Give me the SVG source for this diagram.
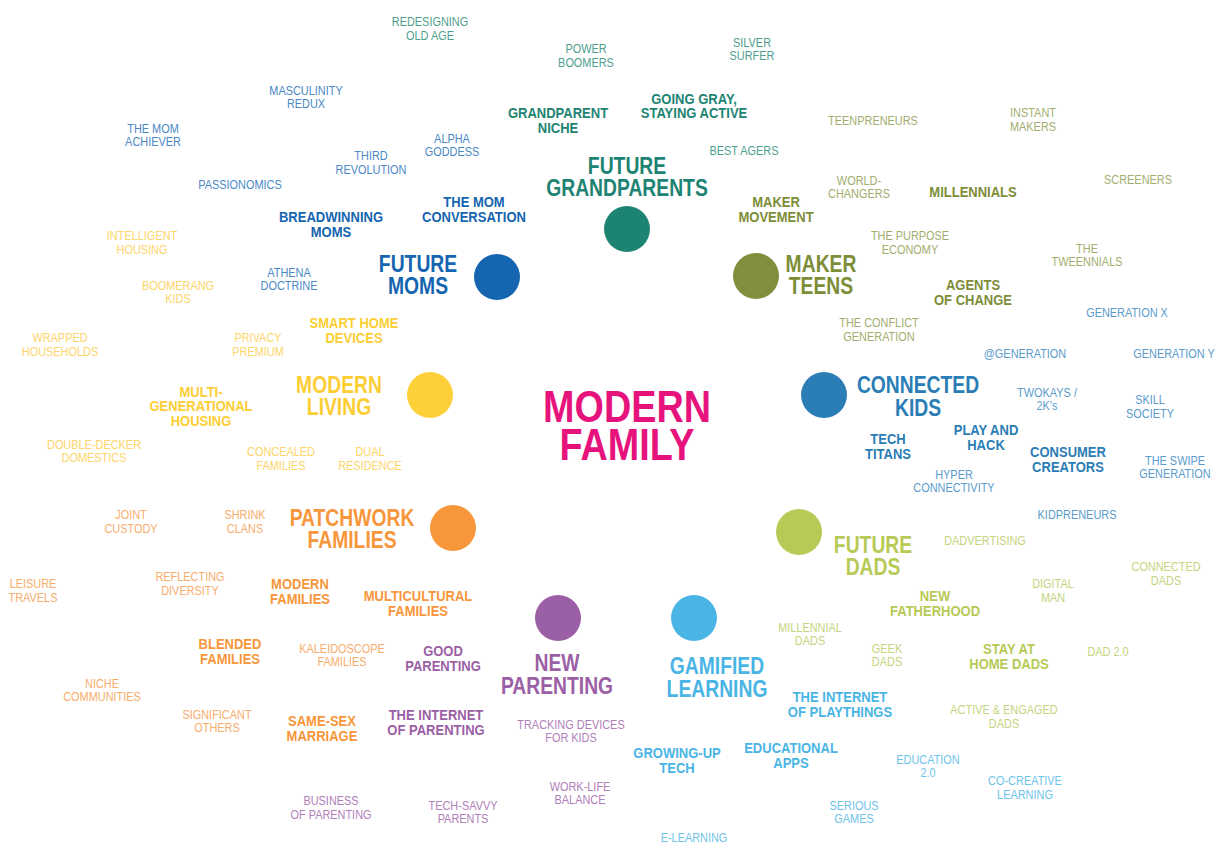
<svg xmlns="http://www.w3.org/2000/svg" width="1223" height="855" viewBox="0 0 1223 855">
<style>
text{font-family:"Liberation Sans",Arial,sans-serif;text-anchor:middle}
.s{font-size:13px;font-weight:400}
.b{font-size:15.5px;font-weight:700}
.L{font-size:23px;font-weight:700}
.H{font-size:45px;font-weight:700;fill:#e6137d}
.gp{fill:#1d8373}.gps{fill:#4e9e8e}
.mo{fill:#1565b0}.mos{fill:#4a88c6}
.mt{fill:#7d8d38}.mts{fill:#a2ad6e}
.ml{fill:#fcce34}.mls{fill:#fdd56a}
.ck{fill:#2a7db5}.cks{fill:#5a9bcc}
.pf{fill:#f7963a}.pfs{fill:#f8ad6c}
.fd{fill:#b7ca55}.fds{fill:#c5d47e}
.np{fill:#9b5fa5}.nps{fill:#b07eb9}
.gl{fill:#4ab5e5}.gls{fill:#6ec3ea}
</style>
<rect width="1223" height="855" fill="#ffffff"/>

<g id="modern-family">
<text class="H" transform="translate(627 422) scale(.84 1)"><tspan x="0">MODERN</tspan><tspan x="0" dy="38">FAMILY</tspan></text>
</g>

<g id="future-grandparents">
<circle cx="627" cy="229" r="23" fill="#1d8373"/>
<text class="L gp" transform="translate(627 174.2) scale(.84 1)"><tspan x="0">FUTURE</tspan><tspan x="0" dy="22">GRANDPARENTS</tspan></text>
<text class="s gps" transform="translate(430 25.5) scale(.84 1)"><tspan x="0">REDESIGNING</tspan><tspan x="0" dy="14.5">OLD AGE</tspan></text>
<text class="s gps" transform="translate(586 52.5) scale(.84 1)"><tspan x="0">POWER</tspan><tspan x="0" dy="15">BOOMERS</tspan></text>
<text class="s gps" transform="translate(752 46.5) scale(.84 1)"><tspan x="0">SILVER</tspan><tspan x="0" dy="14">SURFER</tspan></text>
<text class="s gps" transform="translate(744 154.5) scale(.84 1)">BEST AGERS</text>
<text class="b gp" transform="translate(558 117.5) scale(.84 1)"><tspan x="0">GRANDPARENT</tspan><tspan x="0" dy="16">NICHE</tspan></text>
<text class="b gp" transform="translate(694 103.5) scale(.84 1)"><tspan x="0">GOING GRAY,</tspan><tspan x="0" dy="15">STAYING ACTIVE</tspan></text>
</g>

<g id="future-moms">
<circle cx="497" cy="277" r="23" fill="#1565b0"/>
<text class="L mo" transform="translate(418 272.2) scale(.84 1)"><tspan x="0">FUTURE</tspan><tspan x="0" dy="22">MOMS</tspan></text>
<text class="s mos" transform="translate(306 94.5) scale(.84 1)"><tspan x="0">MASCULINITY</tspan><tspan x="0" dy="14">REDUX</tspan></text>
<text class="s mos" transform="translate(153 132.5) scale(.84 1)"><tspan x="0">THE MOM</tspan><tspan x="0" dy="14">ACHIEVER</tspan></text>
<text class="s mos" transform="translate(371 159.5) scale(.84 1)"><tspan x="0">THIRD</tspan><tspan x="0" dy="15">REVOLUTION</tspan></text>
<text class="s mos" transform="translate(452 142.5) scale(.84 1)"><tspan x="0">ALPHA</tspan><tspan x="0" dy="14">GODDESS</tspan></text>
<text class="s mos" transform="translate(240 188.5) scale(.84 1)">PASSIONOMICS</text>
<text class="s mos" transform="translate(289 276.5) scale(.84 1)"><tspan x="0">ATHENA</tspan><tspan x="0" dy="14">DOCTRINE</tspan></text>
<text class="b mo" transform="translate(331 221.5) scale(.84 1)"><tspan x="0">BREADWINNING</tspan><tspan x="0" dy="16">MOMS</tspan></text>
<text class="b mo" transform="translate(474 206.5) scale(.84 1)"><tspan x="0">THE MOM</tspan><tspan x="0" dy="16">CONVERSATION</tspan></text>
</g>

<g id="maker-teens">
<circle cx="756" cy="276" r="23" fill="#7f8f3b"/>
<text class="L mt" transform="translate(821 272.2) scale(.84 1)"><tspan x="0">MAKER</tspan><tspan x="0" dy="22">TEENS</tspan></text>
<text class="s mts" transform="translate(873 124.5) scale(.84 1)">TEENPRENEURS</text>
<text class="s mts" transform="translate(1033 116.5) scale(.84 1)"><tspan x="0">INSTANT</tspan><tspan x="0" dy="15">MAKERS</tspan></text>
<text class="s mts" transform="translate(859 184.5) scale(.84 1)"><tspan x="0">WORLD-</tspan><tspan x="0" dy="13.5">CHANGERS</tspan></text>
<text class="s mts" transform="translate(1138 183.5) scale(.84 1)">SCREENERS</text>
<text class="s mts" transform="translate(910 239.5) scale(.84 1)"><tspan x="0">THE PURPOSE</tspan><tspan x="0" dy="15">ECONOMY</tspan></text>
<text class="s mts" transform="translate(1087 252.5) scale(.84 1)"><tspan x="0">THE</tspan><tspan x="0" dy="14">TWEENNIALS</tspan></text>
<text class="s mts" transform="translate(879 326.5) scale(.84 1)"><tspan x="0">THE CONFLICT</tspan><tspan x="0" dy="15">GENERATION</tspan></text>
<text class="b mt" transform="translate(973 196.5) scale(.84 1)">MILLENNIALS</text>
<text class="b mt" transform="translate(776 206.5) scale(.84 1)"><tspan x="0">MAKER</tspan><tspan x="0" dy="15.5">MOVEMENT</tspan></text>
<text class="b mt" transform="translate(973 289.5) scale(.84 1)"><tspan x="0">AGENTS</tspan><tspan x="0" dy="16">OF CHANGE</tspan></text>
</g>

<g id="connected-kids">
<circle cx="824" cy="395" r="23" fill="#2a7db5"/>
<text class="L ck" transform="translate(918 393.2) scale(.84 1)"><tspan x="0">CONNECTED</tspan><tspan x="0" dy="23">KIDS</tspan></text>
<text class="s cks" transform="translate(1127 316.5) scale(.84 1)">GENERATION X</text>
<text class="s cks" transform="translate(1025 357.5) scale(.84 1)">@GENERATION</text>
<text class="s cks" transform="translate(1174 357.5) scale(.84 1)">GENERATION Y</text>
<text class="s cks" transform="translate(1047 396.5) scale(.84 1)"><tspan x="0">TWOKAYS /</tspan><tspan x="0" dy="14">2K’s</tspan></text>
<text class="s cks" transform="translate(1150 403.5) scale(.84 1)"><tspan x="0">SKILL</tspan><tspan x="0" dy="15">SOCIETY</tspan></text>
<text class="s cks" transform="translate(954 478.5) scale(.84 1)"><tspan x="0">HYPER</tspan><tspan x="0" dy="14">CONNECTIVITY</tspan></text>
<text class="s cks" transform="translate(1175 464.5) scale(.84 1)"><tspan x="0">THE SWIPE</tspan><tspan x="0" dy="14">GENERATION</tspan></text>
<text class="s cks" transform="translate(1077 518.5) scale(.84 1)">KIDPRENEURS</text>
<text class="b ck" transform="translate(888 443.5) scale(.84 1)"><tspan x="0">TECH</tspan><tspan x="0" dy="16">TITANS</tspan></text>
<text class="b ck" transform="translate(986 434.5) scale(.84 1)"><tspan x="0">PLAY AND</tspan><tspan x="0" dy="15.5">HACK</tspan></text>
<text class="b ck" transform="translate(1068 456.5) scale(.84 1)"><tspan x="0">CONSUMER</tspan><tspan x="0" dy="15.5">CREATORS</tspan></text>
</g>

<g id="future-dads">
<circle cx="799" cy="532" r="23" fill="#b7ca55"/>
<text class="L fd" transform="translate(873 553.2) scale(.84 1)"><tspan x="0">FUTURE</tspan><tspan x="0" dy="22">DADS</tspan></text>
<text class="s fds" transform="translate(985 544.5) scale(.84 1)">DADVERTISING</text>
<text class="s fds" transform="translate(1166 570.5) scale(.84 1)"><tspan x="0">CONNECTED</tspan><tspan x="0" dy="15">DADS</tspan></text>
<text class="s fds" transform="translate(1053 587.5) scale(.84 1)"><tspan x="0">DIGITAL</tspan><tspan x="0" dy="15">MAN</tspan></text>
<text class="s fds" transform="translate(810 631.5) scale(.84 1)"><tspan x="0">MILLENNIAL</tspan><tspan x="0" dy="14">DADS</tspan></text>
<text class="s fds" transform="translate(887 652.5) scale(.84 1)"><tspan x="0">GEEK</tspan><tspan x="0" dy="14">DADS</tspan></text>
<text class="s fds" transform="translate(1108 655.5) scale(.84 1)">DAD 2.0</text>
<text class="s fds" transform="translate(1004 713.5) scale(.84 1)"><tspan x="0">ACTIVE &amp; ENGAGED</tspan><tspan x="0" dy="15">DADS</tspan></text>
<text class="b fd" transform="translate(935 600.5) scale(.84 1)"><tspan x="0">NEW</tspan><tspan x="0" dy="16">FATHERHOOD</tspan></text>
<text class="b fd" transform="translate(1009 653.5) scale(.84 1)"><tspan x="0">STAY AT</tspan><tspan x="0" dy="15.5">HOME DADS</tspan></text>
</g>

<g id="gamified-learning">
<circle cx="694" cy="618" r="23" fill="#4ab5e5"/>
<text class="L gl" transform="translate(717 674.2) scale(.84 1)"><tspan x="0">GAMIFIED</tspan><tspan x="0" dy="23">LEARNING</tspan></text>
<text class="b gl" transform="translate(840 701.5) scale(.84 1)"><tspan x="0">THE INTERNET</tspan><tspan x="0" dy="16">OF PLAYTHINGS</tspan></text>
<text class="b gl" transform="translate(677 757.5) scale(.84 1)"><tspan x="0">GROWING-UP</tspan><tspan x="0" dy="16">TECH</tspan></text>
<text class="b gl" transform="translate(791 752.5) scale(.84 1)"><tspan x="0">EDUCATIONAL</tspan><tspan x="0" dy="16">APPS</tspan></text>
<text class="s gls" transform="translate(928 763.5) scale(.84 1)"><tspan x="0">EDUCATION</tspan><tspan x="0" dy="14">2.0</tspan></text>
<text class="s gls" transform="translate(1025 784.5) scale(.84 1)"><tspan x="0">CO-CREATIVE</tspan><tspan x="0" dy="15">LEARNING</tspan></text>
<text class="s gls" transform="translate(854 809.5) scale(.84 1)"><tspan x="0">SERIOUS</tspan><tspan x="0" dy="14">GAMES</tspan></text>
<text class="s gls" transform="translate(694 841.5) scale(.84 1)">E-LEARNING</text>
</g>

<g id="new-parenting">
<circle cx="558" cy="618" r="23" fill="#9b5fa5"/>
<text class="L np" transform="translate(557 671.2) scale(.84 1)"><tspan x="0">NEW</tspan><tspan x="0" dy="23">PARENTING</tspan></text>
<text class="b np" transform="translate(443 655.5) scale(.84 1)"><tspan x="0">GOOD</tspan><tspan x="0" dy="16">PARENTING</tspan></text>
<text class="b np" transform="translate(436 719.5) scale(.84 1)"><tspan x="0">THE INTERNET</tspan><tspan x="0" dy="16">OF PARENTING</tspan></text>
<text class="s nps" transform="translate(571 728.5) scale(.84 1)"><tspan x="0">TRACKING DEVICES</tspan><tspan x="0" dy="14">FOR KIDS</tspan></text>
<text class="s nps" transform="translate(580 790.5) scale(.84 1)"><tspan x="0">WORK-LIFE</tspan><tspan x="0" dy="14">BALANCE</tspan></text>
<text class="s nps" transform="translate(331 804.5) scale(.84 1)"><tspan x="0">BUSINESS</tspan><tspan x="0" dy="15">OF PARENTING</tspan></text>
<text class="s nps" transform="translate(463 809.5) scale(.84 1)"><tspan x="0">TECH-SAVVY</tspan><tspan x="0" dy="14">PARENTS</tspan></text>
</g>

<g id="patchwork-families">
<circle cx="453" cy="528" r="23" fill="#f7963a"/>
<text class="L pf" transform="translate(352 526.2) scale(.84 1)"><tspan x="0">PATCHWORK</tspan><tspan x="0" dy="22">FAMILIES</tspan></text>
<text class="s pfs" transform="translate(131 518.5) scale(.84 1)"><tspan x="0">JOINT</tspan><tspan x="0" dy="15">CUSTODY</tspan></text>
<text class="s pfs" transform="translate(245 518.5) scale(.84 1)"><tspan x="0">SHRINK</tspan><tspan x="0" dy="15">CLANS</tspan></text>
<text class="s pfs" transform="translate(33 587.5) scale(.84 1)"><tspan x="0">LEISURE</tspan><tspan x="0" dy="15">TRAVELS</tspan></text>
<text class="s pfs" transform="translate(190 580.5) scale(.84 1)"><tspan x="0">REFLECTING</tspan><tspan x="0" dy="15">DIVERSITY</tspan></text>
<text class="s pfs" transform="translate(342 652.5) scale(.84 1)"><tspan x="0">KALEIDOSCOPE</tspan><tspan x="0" dy="14">FAMILIES</tspan></text>
<text class="s pfs" transform="translate(102 687.5) scale(.84 1)"><tspan x="0">NICHE</tspan><tspan x="0" dy="14">COMMUNITIES</tspan></text>
<text class="s pfs" transform="translate(217 718.5) scale(.84 1)"><tspan x="0">SIGNIFICANT</tspan><tspan x="0" dy="14">OTHERS</tspan></text>
<text class="b pf" transform="translate(300 588.5) scale(.84 1)"><tspan x="0">MODERN</tspan><tspan x="0" dy="16">FAMILIES</tspan></text>
<text class="b pf" transform="translate(418 600.5) scale(.84 1)"><tspan x="0">MULTICULTURAL</tspan><tspan x="0" dy="16">FAMILIES</tspan></text>
<text class="b pf" transform="translate(230 648.5) scale(.84 1)"><tspan x="0">BLENDED</tspan><tspan x="0" dy="15.5">FAMILIES</tspan></text>
<text class="b pf" transform="translate(322 725.5) scale(.84 1)"><tspan x="0">SAME-SEX</tspan><tspan x="0" dy="15.5">MARRIAGE</tspan></text>
</g>

<g id="modern-living">
<circle cx="430" cy="395" r="23" fill="#fdd03a"/>
<text class="L ml" transform="translate(339 393.2) scale(.84 1)"><tspan x="0">MODERN</tspan><tspan x="0" dy="22">LIVING</tspan></text>
<text class="s mls" transform="translate(142 239.5) scale(.84 1)"><tspan x="0">INTELLIGENT</tspan><tspan x="0" dy="15">HOUSING</tspan></text>
<text class="s mls" transform="translate(178 289.5) scale(.84 1)"><tspan x="0">BOOMERANG</tspan><tspan x="0" dy="14">KIDS</tspan></text>
<text class="s mls" transform="translate(60 341.5) scale(.84 1)"><tspan x="0">WRAPPED</tspan><tspan x="0" dy="15">HOUSEHOLDS</tspan></text>
<text class="s mls" transform="translate(258 341.5) scale(.84 1)"><tspan x="0">PRIVACY</tspan><tspan x="0" dy="15">PREMIUM</tspan></text>
<text class="s mls" transform="translate(94 448.5) scale(.84 1)"><tspan x="0">DOUBLE-DECKER</tspan><tspan x="0" dy="14">DOMESTICS</tspan></text>
<text class="s mls" transform="translate(281 455.5) scale(.84 1)"><tspan x="0">CONCEALED</tspan><tspan x="0" dy="15">FAMILIES</tspan></text>
<text class="s mls" transform="translate(370 455.5) scale(.84 1)"><tspan x="0">DUAL</tspan><tspan x="0" dy="15">RESIDENCE</tspan></text>
<text class="b ml" transform="translate(354 327.5) scale(.84 1)"><tspan x="0">SMART HOME</tspan><tspan x="0" dy="16">DEVICES</tspan></text>
<text class="b ml" transform="translate(201 396.5) scale(.84 1)"><tspan x="0">MULTI-</tspan><tspan x="0" dy="15">GENERATIONAL</tspan><tspan x="0" dy="15">HOUSING</tspan></text>
</g>
</svg>
